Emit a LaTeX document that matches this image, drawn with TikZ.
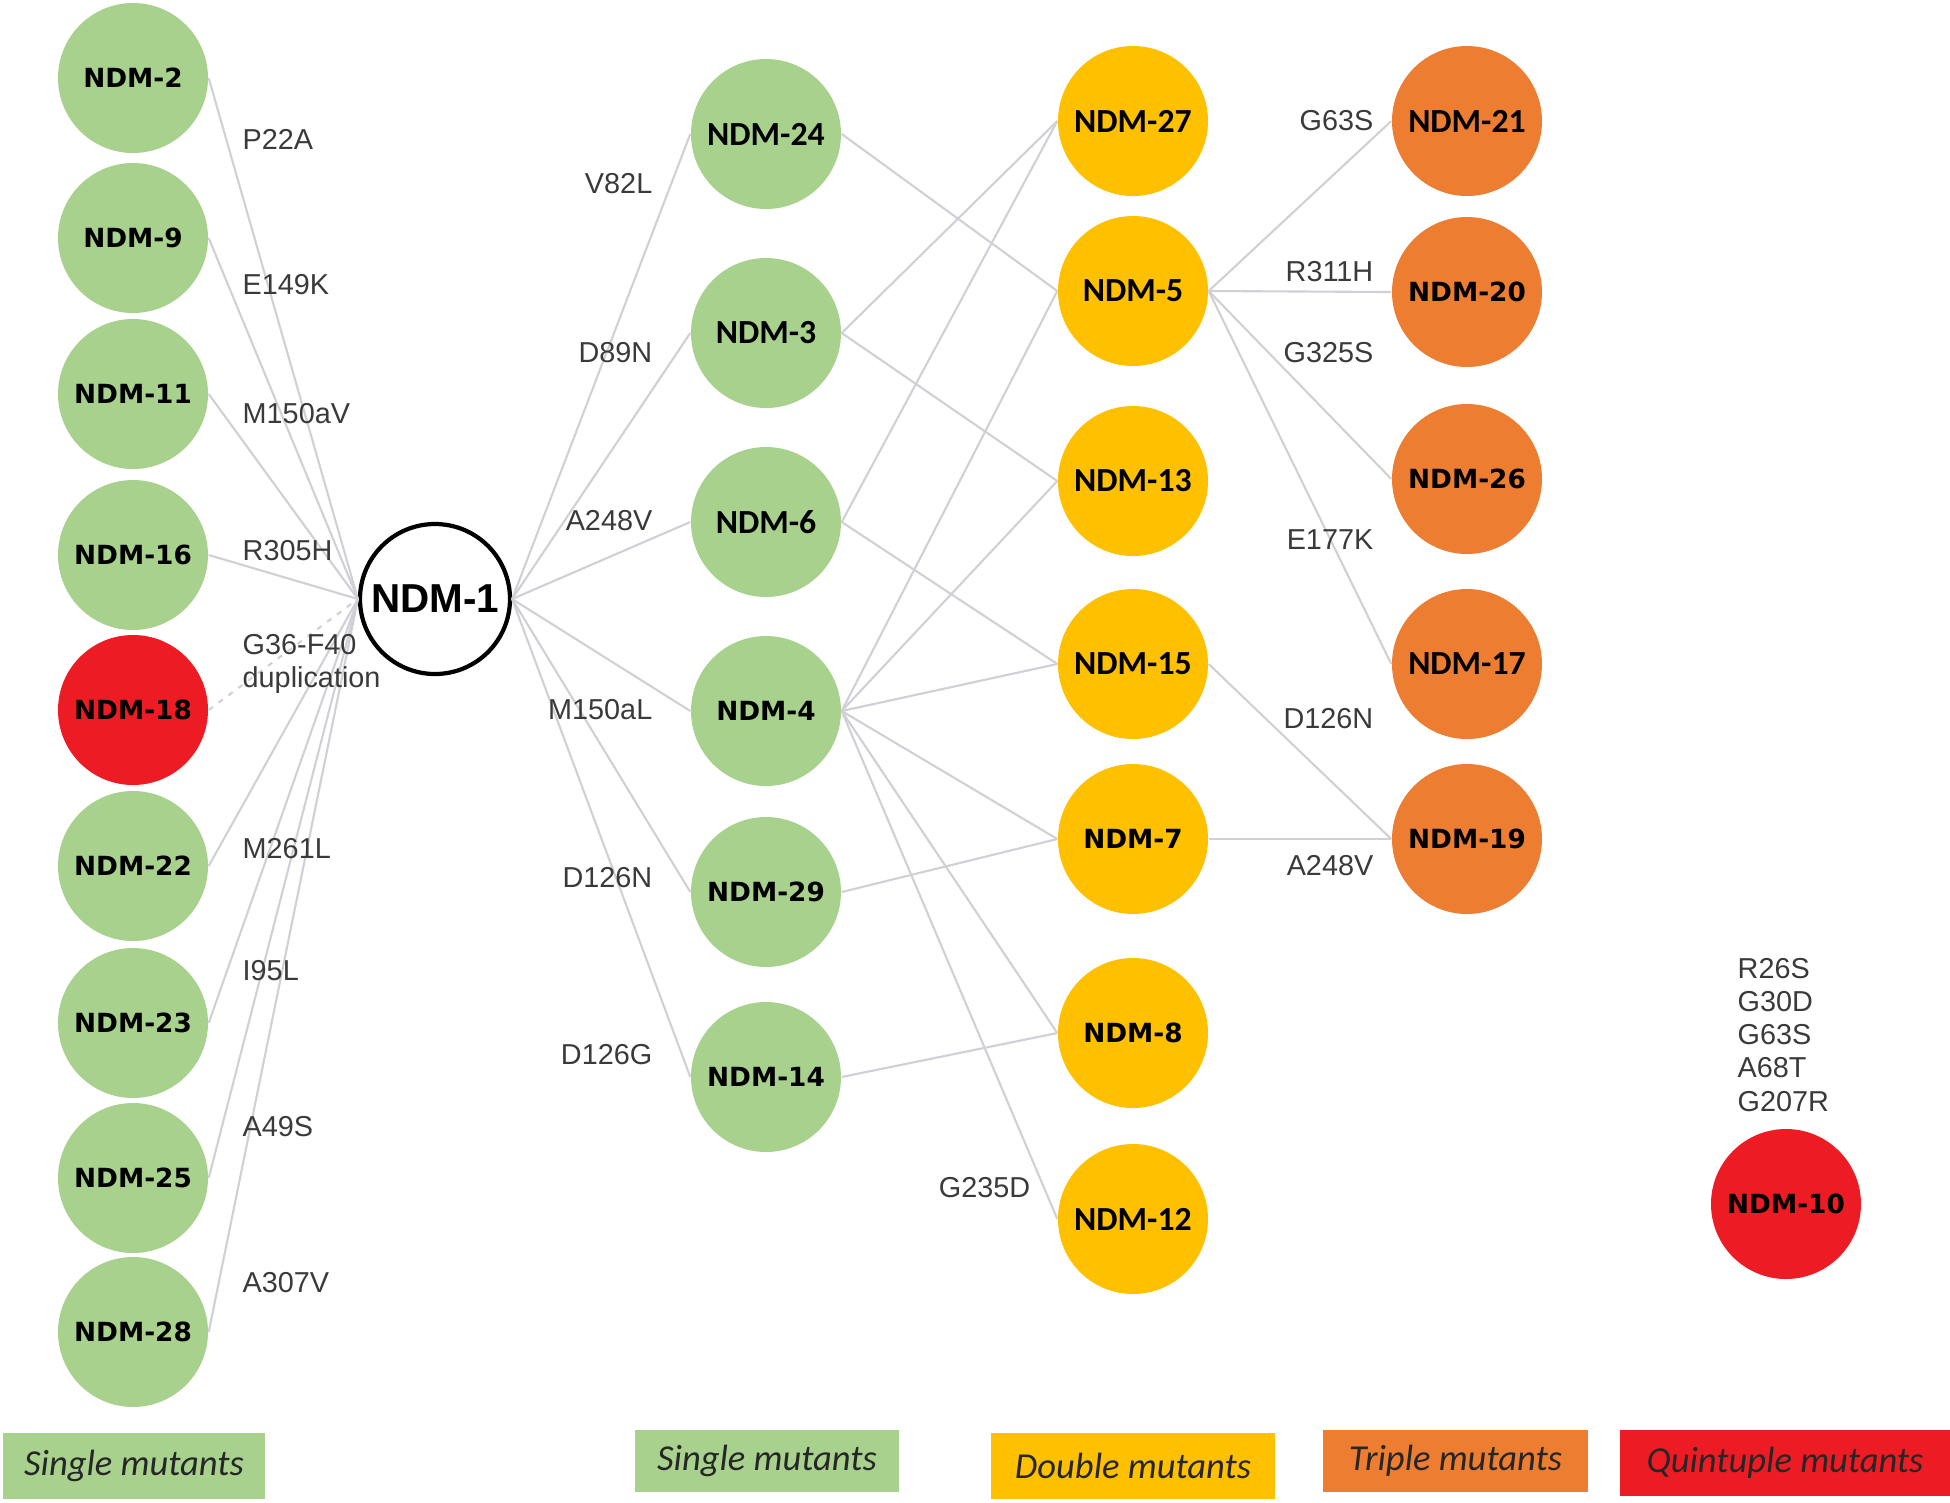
\documentclass[tikz,border=0pt]{standalone}
\usepackage{fontspec}
\setmainfont{Liberation Sans}
\newfontfamily\verdfont{DejaVu Sans}
\newfontfamily\califont{Carlito}
\definecolor{mutgreen}{HTML}{A9D18E}
\definecolor{mutyellow}{HTML}{FFC000}
\definecolor{mutorange}{HTML}{ED7D31}
\definecolor{mutred}{HTML}{ED1C24}
\definecolor{linkgray}{HTML}{D0D0D6}
\definecolor{lblgray}{HTML}{3A3A3A}

\begin{document}
\begin{tikzpicture}[
mut/.style={circle,minimum size=1.5cm,inner sep=0pt},
vfont/.style={font=\verdfont\bfseries\fontsize{7.5}{9}\selectfont},
cfont/.style={font=\califont\bfseries\fontsize{9.6}{11}\selectfont},
singlemut/.style={mut,fill=mutgreen},
doublemut/.style={mut,fill=mutyellow},
triplemut/.style={mut,fill=mutorange},
quintmut/.style={mut,fill=mutred},
lbl/.style={font=\fontsize{8.2}{9.4}\selectfont,text=lblgray,inner sep=0pt},
link/.style={draw=linkgray,line width=0.6pt},
legendbox/.style={minimum height=0.64cm,inner sep=0pt,font=\califont\itshape\fontsize{10.4}{12}\selectfont,text=black!85}]
\useasboundingbox (0,0) rectangle (19.5,-15.03);
% single mutants, left column
\node[singlemut,vfont] (n2) at (1.33,-0.78) {NDM-2};
\node[singlemut,vfont] (n9) at (1.33,-2.38) {NDM-9};
\node[singlemut,vfont] (n11) at (1.33,-3.94) {NDM-11};
\node[singlemut,vfont] (n16) at (1.33,-5.55) {NDM-16};
\node[quintmut,vfont] (n18) at (1.33,-7.10) {NDM-18};
\node[singlemut,vfont] (n22) at (1.33,-8.66) {NDM-22};
\node[singlemut,vfont] (n23) at (1.33,-10.23) {NDM-23};
\node[singlemut,vfont] (n25) at (1.33,-11.78) {NDM-25};
\node[singlemut,vfont] (n28) at (1.33,-13.32) {NDM-28};
\node[mut,draw,line width=1.2pt,fill=white,font=\bfseries\fontsize{11.5}{13}\selectfont] (n1) at (4.35,-5.99) {NDM-1};
% single mutants, middle column
\node[singlemut,cfont] (n24) at (7.66,-1.34) {NDM-24};
\node[singlemut,cfont] (n3) at (7.66,-3.33) {NDM-3};
\node[singlemut,cfont] (n6) at (7.66,-5.22) {NDM-6};
\node[singlemut,vfont] (n4) at (7.66,-7.11) {NDM-4};
\node[singlemut,vfont] (n29) at (7.66,-8.92) {NDM-29};
\node[singlemut,vfont] (n14) at (7.66,-10.77) {NDM-14};
% double mutants
\node[doublemut,cfont] (n27) at (11.33,-1.21) {NDM-27};
\node[doublemut,cfont] (n5) at (11.33,-2.91) {NDM-5};
\node[doublemut,cfont] (n13) at (11.33,-4.81) {NDM-13};
\node[doublemut,cfont] (n15) at (11.33,-6.64) {NDM-15};
\node[doublemut,vfont] (n7) at (11.33,-8.39) {NDM-7};
\node[doublemut,vfont] (n8) at (11.33,-10.33) {NDM-8};
\node[doublemut,cfont] (n12) at (11.33,-12.19) {NDM-12};
% triple mutants
\node[triplemut,cfont] (n21) at (14.67,-1.21) {NDM-21};
\node[triplemut,vfont] (n20) at (14.67,-2.92) {NDM-20};
\node[triplemut,vfont] (n26) at (14.67,-4.79) {NDM-26};
\node[triplemut,cfont] (n17) at (14.67,-6.64) {NDM-17};
\node[triplemut,vfont] (n19) at (14.67,-8.39) {NDM-19};
% quintuple mutant
\node[quintmut,vfont] (n10) at (17.86,-12.04) {NDM-10};
\node[lbl,anchor=west,align=left] (m10) at (17.37,-10.35) {R26S\\G30D\\G63S\\A68T\\G207R};
% links to NDM-1
\draw[link] (n2.east)--(n1.west);
\draw[link] (n9.east)--(n1.west);
\draw[link] (n11.east)--(n1.west);
\draw[link] (n16.east)--(n1.west);
\draw[link,dash pattern=on 1.5pt off 2pt] (n18.east)--(n1.west);
\draw[link] (n22.east)--(n1.west);
\draw[link] (n23.east)--(n1.west);
\draw[link] (n25.east)--(n1.west);
\draw[link] (n28.east)--(n1.west);
\draw[link] (n1.east)--(n24.west);
\draw[link] (n1.east)--(n3.west);
\draw[link] (n1.east)--(n6.west);
\draw[link] (n1.east)--(n4.west);
\draw[link] (n1.east)--(n29.west);
\draw[link] (n1.east)--(n14.west);
% single -> double
\draw[link] (n24.east)--(n5.west);
\draw[link] (n3.east)--(n27.west);
\draw[link] (n3.east)--(n13.west);
\draw[link] (n6.east)--(n27.west);
\draw[link] (n6.east)--(n15.west);
\draw[link] (n4.east)--(n5.west);
\draw[link] (n4.east)--(n13.west);
\draw[link] (n4.east)--(n15.west);
\draw[link] (n4.east)--(n7.west);
\draw[link] (n4.east)--(n8.west);
\draw[link] (n4.east)--(n12.west);
\draw[link] (n29.east)--(n7.west);
\draw[link] (n14.east)--(n8.west);
% double -> triple
\draw[link] (n5.east)--(n21.west);
\draw[link] (n5.east)--(n20.west);
\draw[link] (n5.east)--(n26.west);
\draw[link] (n5.east)--(n17.west);
\draw[link] (n15.east)--(n19.west);
\draw[link] (n7.east)--(n19.west);
% mutation labels
\node[lbl,anchor=west] (l2) at (2.42,-1.39) {P22A};
\node[lbl,anchor=west] (l9) at (2.42,-2.85) {E149K};
\node[lbl,anchor=west] (l11) at (2.42,-4.14) {M150aV};
\node[lbl,anchor=west] (l16) at (2.42,-5.51) {R305H};
\node[lbl,anchor=west,align=left] (l18) at (2.42,-6.64) {G36-F40\\duplication};
\node[lbl,anchor=west] (l22) at (2.42,-8.49) {M261L};
\node[lbl,anchor=west] (l23) at (2.42,-9.71) {I95L};
\node[lbl,anchor=west] (l25) at (2.42,-11.27) {A49S};
\node[lbl,anchor=west] (l28) at (2.42,-12.83) {A307V};
\node[lbl,anchor=east] (l24) at (6.53,-1.84) {V82L};
\node[lbl,anchor=east] (l3) at (6.53,-3.53) {D89N};
\node[lbl,anchor=east] (l6) at (6.53,-5.21) {A248V};
\node[lbl,anchor=east] (l4) at (6.53,-7.10) {M150aL};
\node[lbl,anchor=east] (l29) at (6.53,-8.78) {D126N};
\node[lbl,anchor=east] (l14) at (6.53,-10.55) {D126G};
\node[lbl,anchor=east] (l12) at (10.31,-11.88) {G235D};
\node[lbl,anchor=east] (l21) at (13.74,-1.21) {G63S};
\node[lbl,anchor=east] (l20) at (13.74,-2.72) {R311H};
\node[lbl,anchor=east] (l26) at (13.74,-3.53) {G325S};
\node[lbl,anchor=east] (l17) at (13.74,-5.40) {E177K};
\node[lbl,anchor=east] (l19a) at (13.74,-7.19) {D126N};
\node[lbl,anchor=east] (l19b) at (13.74,-8.66) {A248V};
% legend
\node[legendbox,fill=mutgreen,minimum width=2.62cm,minimum height=0.66cm] (k1) at (1.34,-14.66) {Single mutants};
\node[legendbox,fill=mutgreen,minimum width=2.64cm,minimum height=0.62cm] (k2) at (7.67,-14.61) {Single mutants};
\node[legendbox,fill=mutyellow,minimum width=2.84cm,minimum height=0.66cm] (k3) at (11.33,-14.66) {Double mutants};
\node[legendbox,fill=mutorange,minimum width=2.65cm,minimum height=0.62cm] (k4) at (14.555,-14.61) {Triple mutants};
\node[legendbox,fill=mutred,minimum width=3.30cm,minimum height=0.66cm] (k5) at (17.85,-14.63) {Quintuple mutants};
\end{tikzpicture}
\end{document}
